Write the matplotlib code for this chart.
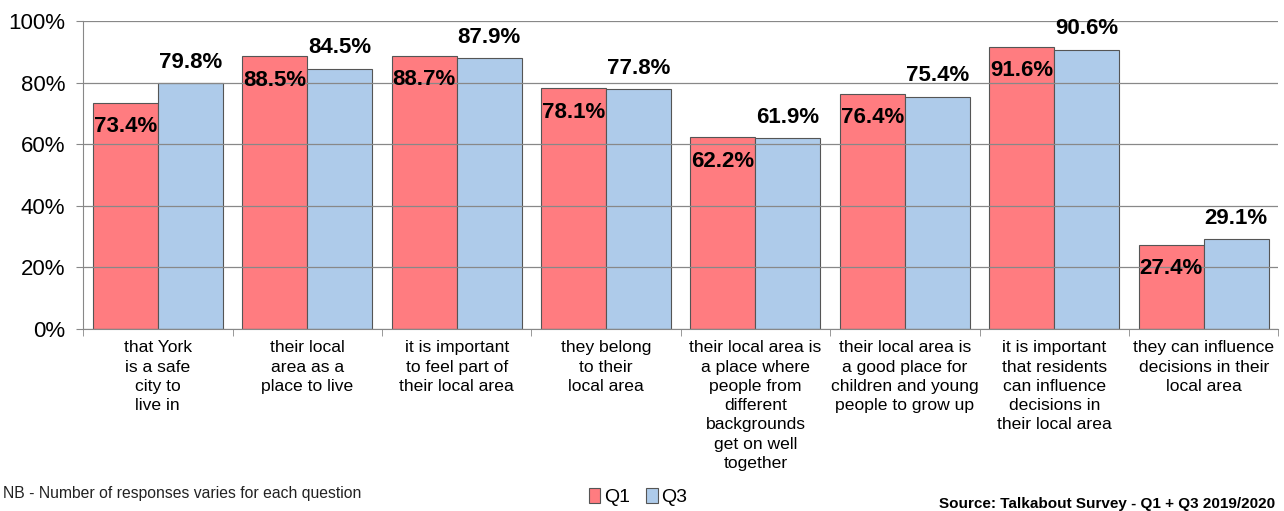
import numpy as np
import matplotlib.pyplot as plt
from matplotlib.ticker import FixedLocator

plt.rcParams['font.family'] = ['Liberation Sans', 'DejaVu Sans']

categories = ['that York\nis a safe\ncity to\nlive in',
              'their local\narea as a\nplace to live',
              'it is important\nto feel part of\ntheir local area',
              'they belong\nto their\nlocal area',
              'their local area is\na place where\npeople from\ndifferent\nbackgrounds\nget on well\ntogether',
              'their local area is\na good place for\nchildren and young\npeople to grow up',
              'it is important\nthat residents\ncan influence\ndecisions in\ntheir local area',
              'they can influence\ndecisions in their\nlocal area']
q1 = [73.4, 88.5, 88.7, 78.1, 62.2, 76.4, 91.6, 27.4]
q3 = [79.8, 84.5, 87.9, 77.8, 61.9, 75.4, 90.6, 29.1]

fig = plt.figure(figsize=(12.84, 5.11), dpi=100)
ax = fig.add_axes([0.0647, 0.356, 0.931, 0.603])

x = np.arange(len(categories))
w = 0.435
red = '#ff7c80'
blue = '#aecbea'
b1 = ax.bar(x - w/2, q1, w, color=red, edgecolor='#555555', linewidth=0.8, label='Q1', zorder=2)
b3 = ax.bar(x + w/2, q3, w, color=blue, edgecolor='#555555', linewidth=0.8, label='Q3', zorder=2)

for xi, v in zip(x, q1):
    ax.annotate(f'{v:.1f}%', (xi - w/2, v), xytext=(0, -24), textcoords='offset pixels',
                ha='center', va='center', fontsize=16, fontweight='bold', zorder=4)
for xi, v in zip(x, q3):
    ax.annotate(f'{v:.1f}%', (xi + w/2, v), xytext=(0, 21), textcoords='offset pixels',
                ha='center', va='center', fontsize=16, fontweight='bold', zorder=4)

ax.set_xlim(-0.5, len(categories) - 0.5)
ax.set_ylim(0, 100)
ax.set_yticks(range(0, 101, 20))
ax.set_yticklabels([f'{t}%' for t in range(0, 101, 20)], fontsize=16)
ax.yaxis.grid(True, color='#888888', linewidth=0.9, zorder=3)
ax.set_axisbelow(False)
ax.set_xticks(x)
ax.set_xticklabels(categories, fontsize=12.6, va='top', linespacing=1.36)
ax.tick_params(axis='x', length=0, pad=8)
ax.xaxis.set_minor_locator(FixedLocator(np.arange(-0.5, len(categories), 1)))
ax.tick_params(axis='x', which='minor', length=5, color='#888888')
ax.tick_params(axis='y', length=5, color='#888888', pad=8)
for s in ['top', 'right']:
    ax.spines[s].set_visible(False)
for s in ['left', 'bottom']:
    ax.spines[s].set_color('#888888')
    ax.spines[s].set_zorder(3)

fig.legend(handles=[b1, b3], labels=['Q1', 'Q3'], loc='center', bbox_to_anchor=(0.497, 0.027),
           ncol=2, frameon=False, fontsize=14, handlelength=0.6, handleheight=0.8,
           handletextpad=0.2, columnspacing=0.8)
fig.text(0.002, 0.035, 'NB - Number of responses varies for each question', fontsize=11.3,
         ha='left', va='center', color='#222222')
fig.text(0.993, 0.0, 'Source: Talkabout Survey - Q1 + Q3 2019/2020', fontsize=11,
         fontweight='bold', ha='right', va='bottom')

fig.savefig('out.png', dpi=100)
